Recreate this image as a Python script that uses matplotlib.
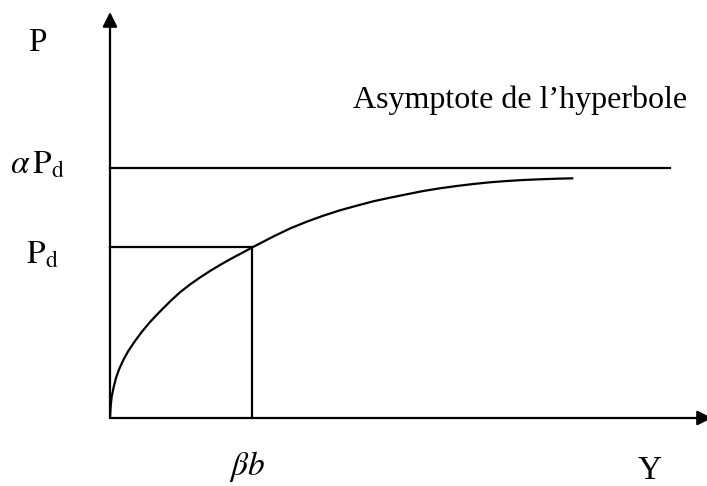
import matplotlib
matplotlib.use("Agg")
import matplotlib.pyplot as plt

plt.rcParams["font.family"] = ["Liberation Serif", "DejaVu Serif"]
plt.rcParams["mathtext.fontset"] = "stix"

# data (units: pixels from the origin) ----------------------------------------
curve_x = [0, 0.7, 1.7, 3.7, 6, 9, 13.3, 18.3, 25, 31.7, 40, 50, 60, 70, 80,
           90, 100, 110, 120, 130, 141.7, 163.3, 180, 196.7, 213.3, 230,
           246.7, 263.3, 280, 296.7, 313.3, 330, 346.7, 363.3, 380, 396.7,
           413.3, 430, 446.7, 463.3]
curve_y = [0, 12, 21.5, 31, 40, 48.5, 58, 67, 77, 86, 96, 106.5, 116.5,
           125.7, 133.5, 140.5, 147, 153, 158.7, 164, 170.3, 181.5, 189.5,
           196.3, 202.3, 207.7, 212.3, 216.7, 220.3, 223.7, 227, 229.7, 232,
           234, 235.7, 237, 238, 238.7, 239.3, 239.7]

pd_level = 171        # P_d
alpha_pd_level = 250  # alpha * P_d
beta_b = 141.7        # beta * b
asymptote_end = 560

x_axis_end = 602
y_axis_end = 406

fig = plt.figure(figsize=(7.07, 4.86), dpi=100)
ax = fig.add_axes([0, 0, 1, 1])
ax.set_xlim(-110, 597)
ax.set_ylim(-68, 418)
ax.axis("off")

lw = 1.6
# axes with arrows
arrow = dict(arrowstyle="-|>", lw=lw, color="k", mutation_scale=22,
             shrinkA=0, shrinkB=0)
ax.annotate("", xy=(0, y_axis_end), xytext=(0, 0), arrowprops=arrow,
            annotation_clip=False)
ax.annotate("", xy=(x_axis_end, 0), xytext=(0, 0), arrowprops=arrow,
            annotation_clip=False)

# asymptote and P_d guides
ax.plot([0, asymptote_end], [alpha_pd_level, alpha_pd_level], color="k", lw=lw)
ax.plot([0, beta_b], [pd_level, pd_level], color="k", lw=lw)
ax.plot([beta_b, beta_b], [0, pd_level], color="k", lw=lw)

# hyperbola
ax.plot(curve_x, curve_y, color="k", lw=lw, solid_capstyle="butt",
        solid_joinstyle="round")

# labels
ax.text(-73, 367, "P", fontsize=24, ha="center", va="baseline")
ax.text(-72, 245, r"$\alpha\,\mathrm{P}_\mathrm{d}$", fontsize=24,
        ha="center", va="baseline")
ax.text(-68, 155, r"$\mathrm{P}_\mathrm{d}$", fontsize=24,
        ha="center", va="baseline")
ax.text(243, 310, "Asymptote de l\u2019hyperbole", fontsize=23,
        ha="left", va="baseline")
ax.text(137, -57, r"$\beta b$", fontsize=24, ha="center", va="baseline")
ax.text(540, -61, "Y", fontsize=24, ha="center", va="baseline")

fig.savefig("out.png", dpi=100)
